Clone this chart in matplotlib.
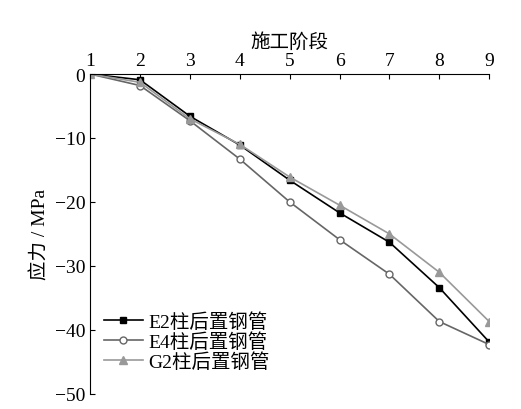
import matplotlib
matplotlib.use("Agg")
import matplotlib.pyplot as plt

plt.rcParams['font.family'] = ['Liberation Serif', 'Noto Sans CJK SC']

stages = [1, 2, 3, 4, 5, 6, 7, 8, 9]
e2 = [0, -0.9, -6.6, -11.1, -16.6, -21.7, -26.3, -33.4, -41.9]
e4 = [0, -1.8, -7.3, -13.3, -20.0, -25.9, -31.3, -38.7, -42.3]
g2 = [0, -1.3, -7.0, -11.0, -16.1, -20.5, -25.0, -31.0, -38.7]

fig = plt.figure(figsize=(5.21, 4.10), dpi=100)
ax = fig.add_axes([0.173, 0.037, 0.766, 0.78])
ax.plot(stages, e2, color='black', marker='s', ms=5, lw=1.2, label='E2柱后置钢管')
ax.plot(stages, e4, color='#666666', marker='o', ms=5, mfc='white', lw=1.2, label='E4柱后置钢管')
ax.plot(stages, g2, color='#999999', marker='^', ms=6, lw=1.2, label='G2柱后置钢管')
ax.set_xlim(1, 9)
ax.set_ylim(-50, 0)
ax.set_yticks(range(-50, 1, 10))
ax.set_xticks(stages)
ax.xaxis.tick_top()
ax.xaxis.set_label_position('top')
ax.set_xlabel('施工阶段', fontsize=14)
ax.set_ylabel('应力 / MPa', fontsize=14)
ax.tick_params(labelsize=14, direction='in')
for s in ['right', 'bottom']:
    ax.spines[s].set_visible(False)
ax.legend(loc='lower left', bbox_to_anchor=(0.0, 0.03), frameon=False, fontsize=14,
          handlelength=2, labelspacing=0.05, borderpad=0.2, handletextpad=0.3)
fig.savefig('out.png', dpi=100)
